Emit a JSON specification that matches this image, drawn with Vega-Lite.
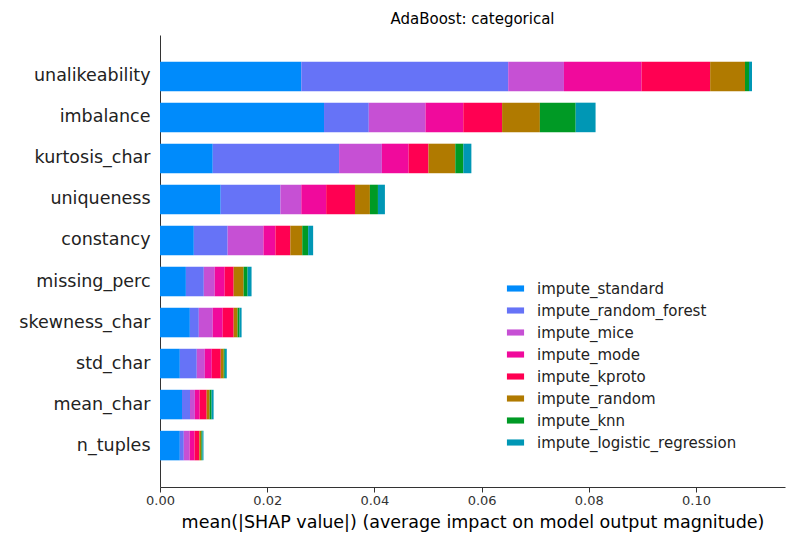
{
"$schema":"https://vega.github.io/schema/vega-lite/v6.json",
"width":625,"height":452,
"autosize":{"type":"none"},
"padding":{"left":160,"top":35,"right":15,"bottom":63},
"title":{"text":"AdaBoost: categorical","fontSize":15,"fontWeight":"normal","font":"DejaVu Sans","color":"#000","offset":8},
"config":{"view":{"stroke":null},"font":"DejaVu Sans"},
"data":{"values":[
{"f":"unalikeability","m":"impute_standard","o":1,"v":0.02636},{"f":"unalikeability","m":"impute_random_forest","o":2,"v":0.0386},{"f":"unalikeability","m":"impute_mice","o":3,"v":0.0104},{"f":"unalikeability","m":"impute_mode","o":4,"v":0.01448},{"f":"unalikeability","m":"impute_kproto","o":5,"v":0.0128},{"f":"unalikeability","m":"impute_random","o":6,"v":0.0065},{"f":"unalikeability","m":"impute_knn","o":7,"v":0.00074},{"f":"unalikeability","m":"impute_logistic_regression","o":8,"v":0.00056},
{"f":"imbalance","m":"impute_standard","o":1,"v":0.0306},{"f":"imbalance","m":"impute_random_forest","o":2,"v":0.00835},{"f":"imbalance","m":"impute_mice","o":3,"v":0.01058},{"f":"imbalance","m":"impute_mode","o":4,"v":0.00705},{"f":"imbalance","m":"impute_kproto","o":5,"v":0.00724},{"f":"imbalance","m":"impute_random","o":6,"v":0.00705},{"f":"imbalance","m":"impute_knn","o":7,"v":0.00668},{"f":"imbalance","m":"impute_logistic_regression","o":8,"v":0.00371},
{"f":"kurtosis_char","m":"impute_standard","o":1,"v":0.00984},{"f":"kurtosis_char","m":"impute_random_forest","o":2,"v":0.02357},{"f":"kurtosis_char","m":"impute_mice","o":3,"v":0.00798},{"f":"kurtosis_char","m":"impute_mode","o":4,"v":0.005},{"f":"kurtosis_char","m":"impute_kproto","o":5,"v":0.0037},{"f":"kurtosis_char","m":"impute_random","o":6,"v":0.005},{"f":"kurtosis_char","m":"impute_knn","o":7,"v":0.0015},{"f":"kurtosis_char","m":"impute_logistic_regression","o":8,"v":0.0015},
{"f":"uniqueness","m":"impute_standard","o":1,"v":0.01132},{"f":"uniqueness","m":"impute_random_forest","o":2,"v":0.01114},{"f":"uniqueness","m":"impute_mice","o":3,"v":0.0039},{"f":"uniqueness","m":"impute_mode","o":4,"v":0.00464},{"f":"uniqueness","m":"impute_kproto","o":5,"v":0.00538},{"f":"uniqueness","m":"impute_random","o":6,"v":0.00278},{"f":"uniqueness","m":"impute_knn","o":7,"v":0.0015},{"f":"uniqueness","m":"impute_logistic_regression","o":8,"v":0.0013},
{"f":"constancy","m":"impute_standard","o":1,"v":0.00631},{"f":"constancy","m":"impute_random_forest","o":2,"v":0.00631},{"f":"constancy","m":"impute_mice","o":3,"v":0.00668},{"f":"constancy","m":"impute_mode","o":4,"v":0.00223},{"f":"constancy","m":"impute_kproto","o":5,"v":0.00278},{"f":"constancy","m":"impute_random","o":6,"v":0.00223},{"f":"constancy","m":"impute_knn","o":7,"v":0.0011},{"f":"constancy","m":"impute_logistic_regression","o":8,"v":0.00093},
{"f":"missing_perc","m":"impute_standard","o":1,"v":0.00483},{"f":"missing_perc","m":"impute_random_forest","o":2,"v":0.00334},{"f":"missing_perc","m":"impute_mice","o":3,"v":0.00204},{"f":"missing_perc","m":"impute_mode","o":4,"v":0.00186},{"f":"missing_perc","m":"impute_kproto","o":5,"v":0.00167},{"f":"missing_perc","m":"impute_random","o":6,"v":0.00186},{"f":"missing_perc","m":"impute_knn","o":7,"v":0.00074},{"f":"missing_perc","m":"impute_logistic_regression","o":8,"v":0.00074},
{"f":"skewness_char","m":"impute_standard","o":1,"v":0.00557},{"f":"skewness_char","m":"impute_random_forest","o":2,"v":0.00167},{"f":"skewness_char","m":"impute_mice","o":3,"v":0.0026},{"f":"skewness_char","m":"impute_mode","o":4,"v":0.00186},{"f":"skewness_char","m":"impute_kproto","o":5,"v":0.00204},{"f":"skewness_char","m":"impute_random","o":6,"v":0.00074},{"f":"skewness_char","m":"impute_knn","o":7,"v":0.00037},{"f":"skewness_char","m":"impute_logistic_regression","o":8,"v":0.00037},
{"f":"std_char","m":"impute_standard","o":1,"v":0.0037},{"f":"std_char","m":"impute_random_forest","o":2,"v":0.00316},{"f":"std_char","m":"impute_mice","o":3,"v":0.0015},{"f":"std_char","m":"impute_mode","o":4,"v":0.0013},{"f":"std_char","m":"impute_kproto","o":5,"v":0.00167},{"f":"std_char","m":"impute_random","o":6,"v":0.00056},{"f":"std_char","m":"impute_knn","o":7,"v":0.0002},{"f":"std_char","m":"impute_logistic_regression","o":8,"v":0.00037},
{"f":"mean_char","m":"impute_standard","o":1,"v":0.0041},{"f":"mean_char","m":"impute_random_forest","o":2,"v":0.0015},{"f":"mean_char","m":"impute_mice","o":3,"v":0.0009},{"f":"mean_char","m":"impute_mode","o":4,"v":0.0009},{"f":"mean_char","m":"impute_kproto","o":5,"v":0.0013},{"f":"mean_char","m":"impute_random","o":6,"v":0.00056},{"f":"mean_char","m":"impute_knn","o":7,"v":0.00037},{"f":"mean_char","m":"impute_logistic_regression","o":8,"v":0.00037},
{"f":"n_tuples","m":"impute_standard","o":1,"v":0.0037},{"f":"n_tuples","m":"impute_random_forest","o":2,"v":0.00074},{"f":"n_tuples","m":"impute_mice","o":3,"v":0.0011},{"f":"n_tuples","m":"impute_mode","o":4,"v":0.0009},{"f":"n_tuples","m":"impute_kproto","o":5,"v":0.0009},{"f":"n_tuples","m":"impute_random","o":6,"v":0.00037},{"f":"n_tuples","m":"impute_knn","o":7,"v":0.0002},{"f":"n_tuples","m":"impute_logistic_regression","o":8,"v":0.0002}
]},
"mark":{"type":"bar"},
"encoding":{
"y":{"field":"f","type":"nominal","sort":["unalikeability","imbalance","kurtosis_char","uniqueness","constancy","missing_perc","skewness_char","std_char","mean_char","n_tuples"],
"scale":{"paddingInner":0.28,"paddingOuter":0.65},
"axis":{"title":null,"ticks":false,"labelFontSize":17.5,"labelColor":"#222","labelPadding":10,"domainColor":"#333","labelFont":"DejaVu Sans"}},
"x":{"field":"v","type":"quantitative","stack":"zero","scale":{"domain":[0,0.1166],"nice":false},
"axis":{"title":"mean(|SHAP value|) (average impact on model output magnitude)","titleFontSize":17.5,"titleFontWeight":"normal","titleColor":"#000","titlePadding":6,"labelFontSize":13,"labelColor":"#333","labelFlush":false,"grid":false,"values":[0,0.02,0.04,0.06,0.08,0.1],"format":".2f","domainColor":"#333","tickColor":"#333"}},
"order":{"field":"o","type":"quantitative"},
"color":{"field":"m","type":"nominal",
"scale":{"domain":["impute_standard","impute_random_forest","impute_mice","impute_mode","impute_kproto","impute_random","impute_knn","impute_logistic_regression"],
"range":["#008bfb","#6673f7","#c650d4","#f00a9c","#ff0052","#b07a00","#009a25","#0097b5"]},
"legend":{"title":null,"orient":"none","legendX":340,"legendY":246,"symbolType":"M-1.4,-0.5H1.4V0.5H-1.4Z","symbolSize":150,"symbolStrokeWidth":0,"labelFontSize":15,"labelLimit":400,"labelColor":"#222","rowPadding":6,"labelOffset":14,"symbolOffset":8}}
}
}
